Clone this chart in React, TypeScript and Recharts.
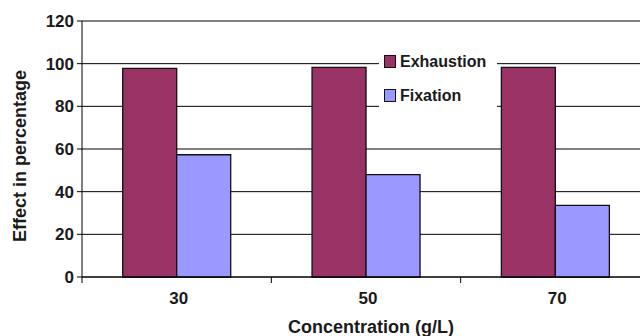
import { BarChart, Bar, XAxis, YAxis, CartesianGrid, Legend } from 'recharts'

const concentrations = ['30', '50', '70']
const exhaustion = [97.8, 98.3, 98.3]
const fixation = [57.3, 48, 33.6]
const yTicks = [0, 20, 40, 60, 80, 100, 120]

const seriesInfo = [
  { key: 'exhaustion', name: 'Exhaustion', color: '#993366' },
  { key: 'fixation', name: 'Fixation', color: '#9999FF' },
]

const data = concentrations.map((c, i) => ({ conc: c, exhaustion: exhaustion[i], fixation: fixation[i] }))

const FONT = '"Liberation Sans", Arial, sans-serif'
const CHART_W = 660
const MARGIN = { top: 21, right: 10, left: 0, bottom: 0 }
const Y_AXIS_W = 82
const HALF_BAND = (CHART_W - MARGIN.right - MARGIN.left - Y_AXIS_W) / concentrations.length / 2

function XTick(props: any) {
  const { x, y, payload } = props
  return (
    <g>
      <line x1={x - HALF_BAND} x2={x - HALF_BAND} y1={y} y2={y + 6} stroke="#000" strokeWidth={1} />
      <text x={x + 2} y={y + 27} textAnchor="middle" fontFamily={FONT} fontWeight="bold" fontSize={17} fill="#1a1a1a">
        {payload.value}
      </text>
    </g>
  )
}

function LegendBox() {
  return (
    <div style={{ background: '#fff', width: 118, height: 70, paddingTop: 7, boxSizing: 'border-box', display: 'flex', flexDirection: 'column', gap: 17 }}>
      {seriesInfo.map(s => (
        <div key={s.key} style={{ display: 'flex', alignItems: 'center', height: 17, paddingLeft: 5 }}>
          <div style={{ width: 10, height: 11, background: s.color, border: '1.5px solid #111', marginRight: 4 }} />
          <span style={{ fontFamily: FONT, fontWeight: 'bold', fontSize: 16, color: '#1a1a1a', lineHeight: '17px' }}>{s.name}</span>
        </div>
      ))}
    </div>
  )
}

export default function App() {
  return (
    <div style={{ position: 'absolute', left: 0, top: 0, width: 640, height: 336, overflow: 'hidden', background: '#fff' }}>
      <BarChart width={CHART_W} height={336} data={data} margin={MARGIN} barCategoryGap="21.5%" barGap={0}>
        <CartesianGrid vertical={false} stroke="#000" strokeWidth={1} />
        <XAxis
          dataKey="conc"
          height={59}
          tickLine={false}
          tickSize={0}
          tickMargin={0}
          stroke="#000"
          tick={<XTick />}
          label={({ viewBox }: any) => (
            <text x={viewBox.x + viewBox.width / 2 + 5} y={333} textAnchor="middle" fontFamily={FONT} fontWeight="bold" fontSize={18} fill="#1a1a1a">
              Concentration (g/L)
            </text>
          )}
        />
        <YAxis
          width={Y_AXIS_W}
          domain={[0, 120]}
          ticks={yTicks}
          interval={0}
          stroke="#000"
          tickSize={5}
          tickMargin={3}
          tick={{ fontFamily: FONT, fontWeight: 'bold', fontSize: 17, fill: '#1a1a1a' }}
          label={() => (
            <text x={26} y={156} transform="rotate(-90, 26, 156)" textAnchor="middle" fontFamily={FONT} fontWeight="bold" fontSize={18} fill="#1a1a1a">
              Effect in percentage
            </text>
          )}
        />
        <Legend
          layout="vertical"
          align="center"
          verticalAlign="middle"
          content={<LegendBox />}
          wrapperStyle={{ left: 379, top: 46, width: 118 }}
        />
        {seriesInfo.map(s => (
          <Bar key={s.key} dataKey={s.key} name={s.name} fill={s.color} stroke="#111" strokeWidth={1.3} isAnimationActive={false} />
        ))}
      </BarChart>
    </div>
  )
}
